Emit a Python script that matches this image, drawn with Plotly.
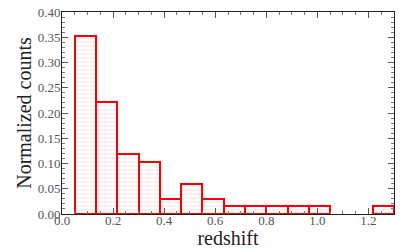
import plotly.graph_objects as go

# Histogram bins (redshift), 15 bins between 0.05 and 1.30
bin_start = 0.05
bin_end = 1.30
n_bins = 15
counts_norm = [0.353, 0.221, 0.118, 0.103, 0.029, 0.059, 0.029,
               0.015, 0.015, 0.015, 0.015, 0.015, 0.0, 0.0, 0.015]
x_ticks = [0.0, 0.2, 0.4, 0.6, 0.8, 1.0, 1.2]
y_ticks = [0.00, 0.05, 0.10, 0.15, 0.20, 0.25, 0.30, 0.35, 0.40]

width = (bin_end - bin_start) / n_bins
centers = [bin_start + width * (i + 0.5) for i in range(n_bins)]
yvals = [v if v > 0 else None for v in counts_norm]

fig = go.Figure()
fig.add_trace(go.Bar(
    x=centers, y=yvals, width=[width] * n_bins,
    marker=dict(
        color="rgba(255,255,255,0)",
        line=dict(color="#ff0000", width=2),
        pattern=dict(shape="-", fgcolor="#ffc4c4", size=4,
                     solidity=0.3, bgcolor="white", fillmode="overlay"),
    ),
    showlegend=False,
))

font_family = "Liberation Serif, DejaVu Serif, serif"
axis_common = dict(
    showline=True, linecolor="#222", linewidth=1, mirror="ticks",
    ticks="inside", tickcolor="#555", ticklen=6, tickwidth=1,
    showgrid=False, zeroline=False, automargin=False,
    ticklabeloverflow="allow",
    tickfont=dict(family=font_family, size=13, color="#555"),
)

# page body has an 8px margin; figure sized to fill the rest of the window
fig.update_layout(
    width=407, height=241,
    margin=dict(l=54, r=21, t=4, b=35, autoexpand=False),
    plot_bgcolor="white", paper_bgcolor="white",
    bargap=0,
    xaxis=dict(
        range=[0, 1.3], tickvals=x_ticks,
        ticktext=[f"{v:.1f}" for v in x_ticks],
        ticklabelstandoff=-6,
        title=dict(text="redshift", font=dict(family=font_family, size=20, color="#222"), standoff=2),
        minor=dict(dtick=0.05, tick0=0, ticks="inside", ticklen=3, tickcolor="#777"),
        **axis_common,
    ),
    yaxis=dict(
        range=[0, 0.4], tickvals=y_ticks,
        ticktext=[f"{v:.2f}" for v in y_ticks],
        ticklabelstandoff=-2,
        title=dict(text="Normalized counts", font=dict(family=font_family, size=20, color="#222"), standoff=0),
        minor=dict(dtick=0.01, tick0=0, ticks="inside", ticklen=3, tickcolor="#777"),
        **axis_common,
    ),
)

fig.write_html("out.html")
